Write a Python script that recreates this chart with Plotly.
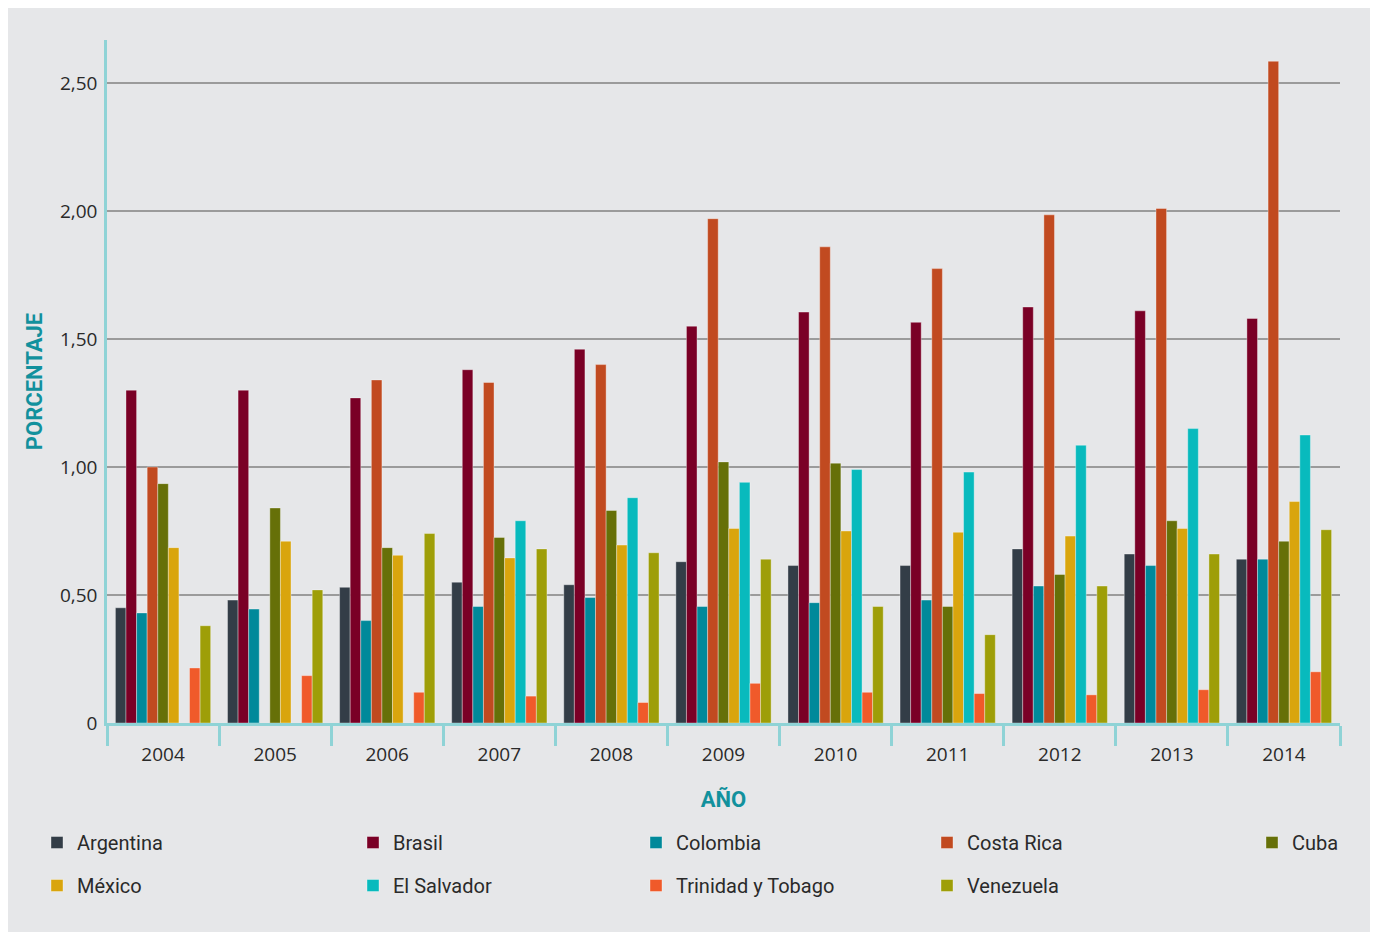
import plotly.graph_objects as go

years = ["2004", "2005", "2006", "2007", "2008", "2009", "2010", "2011", "2012", "2013", "2014"]

argentina = [0.45, 0.48, 0.53, 0.55, 0.54, 0.63, 0.615, 0.615, 0.68, 0.66, 0.64]
brasil = [1.30, 1.30, 1.27, 1.38, 1.46, 1.55, 1.605, 1.565, 1.625, 1.61, 1.58]
colombia = [0.43, 0.445, 0.40, 0.455, 0.49, 0.455, 0.47, 0.48, 0.535, 0.615, 0.64]
costa_rica = [1.00, None, 1.34, 1.33, 1.40, 1.97, 1.86, 1.775, 1.985, 2.01, 2.585]
cuba = [0.935, 0.84, 0.685, 0.725, 0.83, 1.02, 1.015, 0.455, 0.58, 0.79, 0.71]
mexico = [0.685, 0.71, 0.655, 0.645, 0.695, 0.76, 0.75, 0.745, 0.73, 0.76, 0.865]
el_salvador = [None, None, None, 0.79, 0.88, 0.94, 0.99, 0.98, 1.085, 1.15, 1.125]
trinidad = [0.215, 0.185, 0.12, 0.105, 0.08, 0.155, 0.12, 0.115, 0.11, 0.13, 0.20]
venezuela = [0.38, 0.52, 0.74, 0.68, 0.665, 0.64, 0.455, 0.345, 0.535, 0.66, 0.755]

series = [
    ("Argentina", argentina, "#333D47", "legend"),
    ("Brasil", brasil, "#7A0026", "legend2"),
    ("Colombia", colombia, "#00899A", "legend3"),
    ("Costa Rica", costa_rica, "#C14A20", "legend4"),
    ("Cuba", cuba, "#667008", "legend5"),
    ("México", mexico, "#D9A50D", "legend"),
    ("El Salvador", el_salvador, "#08BABD", "legend2"),
    ("Trinidad y Tobago", trinidad, "#F05A2A", "legend3"),
    ("Venezuela", venezuela, "#9E9E08", "legend4"),
]

ytick_vals = [0, 0.5, 1.0, 1.5, 2.0, 2.5]
ytick_text = ["0", "0,50", "1,00", "1,50", "2,00", "2,50"]

fig = go.Figure()
for name, vals, color, lg in series:
    fig.add_trace(go.Bar(
        x=years, y=vals, name=name, legend=lg, legendgroup=name,
        marker=dict(color=color, line=dict(color="rgba(255,255,255,0.35)", width=1)),
    ))

teal = "#8FD3D6"
title_teal = "#12919D"
txt = "#2a2a2a"

# The page body has an 8px margin, so page pixel p maps to figure pixel p - 8.
OFF = 8
W, H = 1378 - OFF, 934 - OFF
L, T = 107 - OFF, 40 - OFF
R = W - (1340 - OFF)
B = H - (723 - OFF)
pw, ph = W - L - R, H - T - B

def px_x(x):
    return (x - OFF - L) / pw

def px_y(y):
    return (H - B - (y - OFF)) / ph

legend_font = dict(family="Roboto, sans-serif", size=20, color=txt)
leg_common = dict(
    orientation="v", yanchor="top", xanchor="left", font=legend_font,
    bgcolor="rgba(0,0,0,0)", tracegroupgap=14, traceorder="grouped",
)
ly = 823

fig.update_layout(
    width=W, height=H,
    margin=dict(l=L, r=R, t=T, b=B),
    paper_bgcolor="white",
    plot_bgcolor="rgba(0,0,0,0)",
    barmode="group",
    bargap=0.15,
    bargroupgap=0,
    font=dict(family="Open Sans, sans-serif", color=txt),
    legend=dict(x=px_x(37), y=px_y(ly), **leg_common),
    legend2=dict(x=px_x(353), y=px_y(ly), **leg_common),
    legend3=dict(x=px_x(636), y=px_y(ly), **leg_common),
    legend4=dict(x=px_x(927), y=px_y(ly), **leg_common),
    legend5=dict(x=px_x(1252), y=px_y(ly), **leg_common),
    xaxis=dict(
        type="category",
        showline=True, linecolor=teal, linewidth=3,
        ticks="outside", tickson="boundaries", ticklen=20, tickwidth=2.5, tickcolor=teal,
        showgrid=False,
        ticklabelstandoff=12,
        tickfont=dict(family="Open Sans, sans-serif", size=19, color=txt),
        title=dict(text="<b>AÑO</b>", font=dict(family="Roboto, sans-serif", size=22, color=title_teal), standoff=26),
    ),
    yaxis=dict(
        range=[0, 2.668],
        tickvals=ytick_vals, ticktext=ytick_text,
        showline=True, linecolor=teal, linewidth=2.5,
        showgrid=True, gridcolor="#9B9B9B", gridwidth=1.5,
        zeroline=False,
        ticks="", ticklabelstandoff=3,
        tickfont=dict(family="Open Sans, sans-serif", size=19, color=txt),
        title=dict(text="<b>PORCENTAJE</b>", font=dict(family="Roboto, sans-serif", size=22, color=title_teal), standoff=12),
    ),
    shapes=[dict(
        type="rect", xref="paper", yref="paper", layer="below",
        x0=px_x(7), x1=px_x(1372), y0=px_y(932), y1=px_y(8),
        fillcolor="#E6E7E9", line=dict(width=0),
    )],
)

fig.write_html("out.html")
